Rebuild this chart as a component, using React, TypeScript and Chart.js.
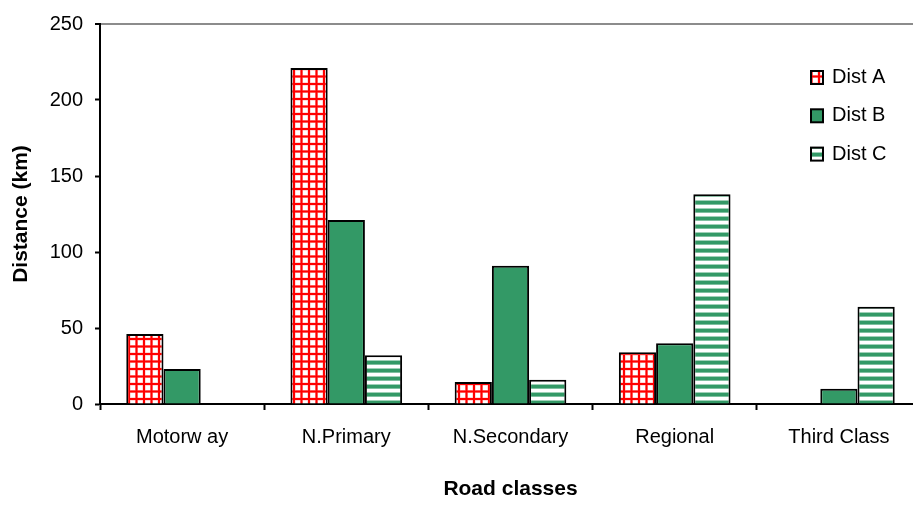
import React, { useEffect, useRef } from 'react';
import { Chart, registerables } from 'chart.js';

Chart.register(...registerables);

const categories = ['Motorw ay', 'N.Primary', 'N.Secondary', 'Regional', 'Third Class'];
const seriesLabels = ['Dist A', 'Dist B', 'Dist C'];
const distA = [46, 221, 14.5, 34, 0];
const distB = [23, 121, 91, 40, 10];
const distC = [0, 32, 16, 138, 64];
const yTicks = [0, 50, 100, 150, 200, 250];

const FONT = "'Liberation Sans', Arial, sans-serif";
const GREEN = '#339966';

function makeGridPattern(ctx: CanvasRenderingContext2D) {
  const c = document.createElement('canvas');
  c.width = 15;
  c.height = 15;
  const g = c.getContext('2d')!;
  g.fillStyle = '#ffffff';
  g.fillRect(0, 0, 15, 15);
  g.fillStyle = '#ffb3b3';
  g.fillRect(0, 0, 3, 15);
  g.fillRect(7.5, 0, 3, 15);
  g.fillRect(0, 0, 15, 3);
  g.fillRect(0, 7.5, 15, 3);
  g.fillStyle = '#ff0000';
  g.fillRect(0.5, 0, 2, 15);
  g.fillRect(8, 0, 2, 15);
  g.fillRect(0, 0.5, 15, 2);
  g.fillRect(0, 8, 15, 2);
  return ctx.createPattern(c, 'repeat')!;
}

function makeStripePattern(ctx: CanvasRenderingContext2D) {
  const c = document.createElement('canvas');
  c.width = 8;
  c.height = 8;
  const g = c.getContext('2d')!;
  g.fillStyle = '#ffffff';
  g.fillRect(0, 0, 8, 8);
  g.fillStyle = '#9fd0b7';
  g.fillRect(0, 0, 8, 1);
  g.fillStyle = GREEN;
  g.fillRect(0, 1, 8, 3);
  g.fillStyle = '#7fc0a0';
  g.fillRect(0, 4, 8, 1);
  return ctx.createPattern(c, 'repeat')!;
}

const insideLegend = {
  id: 'insideLegend',
  afterDraw(chart: any) {
    const { ctx, chartArea } = chart;
    const x = chartArea.right - 110;
    const y0 = chartArea.top + 53.5;
    const gap = 38.3;
    ctx.save();
    ctx.font = `20px ${FONT}`;
    ctx.textBaseline = 'middle';
    ctx.textAlign = 'left';
    chart.data.datasets.forEach((ds: any, i: number) => {
      const y = y0 + i * gap;
      ctx.fillStyle = ds.backgroundColor;
      ctx.fillRect(x, y - 6.5, 12, 13);
      ctx.strokeStyle = '#000';
      ctx.lineWidth = 2;
      ctx.strokeRect(x, y - 6.5, 12, 13);
      ctx.fillStyle = '#000';
      ctx.fillText(ds.label, x + 21, y);
    });
    ctx.restore();
  },
};

export default function App() {
  const ref = useRef<HTMLCanvasElement | null>(null);

  useEffect(() => {
    const canvas = ref.current!;
    const ctx = canvas.getContext('2d')!;
    const patA = makeGridPattern(ctx);
    const patC = makeStripePattern(ctx);

    const chart = new Chart(canvas, {
      type: 'bar',
      data: {
        labels: categories,
        datasets: [
          { label: seriesLabels[0], data: distA, backgroundColor: patA as any, borderColor: '#000', borderWidth: 2 },
          { label: seriesLabels[1], data: distB, backgroundColor: GREEN, borderColor: '#000', borderWidth: 2 },
          { label: seriesLabels[2], data: distC, backgroundColor: patC as any, borderColor: '#000', borderWidth: 2 },
        ],
      },
      options: {
        animation: false,
        responsive: false,
        maintainAspectRatio: false,
        layout: { padding: { top: 20, right: 19, bottom: 0, left: 0 } },
        datasets: { bar: { categoryPercentage: 0.68, barPercentage: 1.0 } },
        plugins: {
          legend: { display: false },
          tooltip: { enabled: false },
        },
        scales: {
          x: {
            offset: true,
            grid: {
              display: true,
              offset: true,
              drawOnChartArea: false,
              drawTicks: true,
              tickLength: 6,
              tickColor: '#000',
              tickWidth: 2,
              color: '#000',
            },
            border: { display: true, color: '#000', width: 2 },
            ticks: { color: '#000', font: { family: FONT, size: 20 }, padding: 15, maxRotation: 0, autoSkip: false },
            title: {
              display: true,
              text: 'Road classes',
              color: '#000',
              font: { family: FONT, size: 21, weight: 'bold' },
              padding: { top: 0, bottom: 3 },
            },
            afterFit: (s: any) => {
              s.height = 101;
            },
          },
          y: {
            min: 0,
            max: 250,
            grid: {
              drawOnChartArea: true,
              drawTicks: true,
              tickLength: 5,
              tickColor: '#000',
              tickWidth: 2,
              color: (c: any) => (c.tick && c.tick.value === 250 ? '#8c8c8c' : 'rgba(0,0,0,0)'),
              lineWidth: (c: any) => (c.tick && c.tick.value === 250 ? 2 : 1),
            },
            border: { display: true, color: '#000', width: 2 },
            ticks: { color: '#000', font: { family: FONT, size: 20 }, padding: 12, stepSize: 50 },
            afterBuildTicks: (s: any) => {
              s.ticks = yTicks.map((v) => ({ value: v }));
            },
            title: {
              display: true,
              text: 'Distance (km)',
              color: '#000',
              font: { family: FONT, size: 21, weight: 'bold' },
              padding: { top: 9, bottom: 0 },
            },
            afterFit: (s: any) => {
              s.width = 100;
            },
          },
        },
      },
      plugins: [insideLegend],
    });

    return () => {
      chart.destroy();
    };
  }, []);

  return (
    <div
      style={{
        position: 'fixed',
        left: 0,
        top: 0,
        width: 913,
        height: 505,
        overflow: 'hidden',
        background: '#fff',
      }}
    >
      <canvas ref={ref} width={940} height={505} style={{ display: 'block', width: 940, height: 505 }} />
    </div>
  );
}
